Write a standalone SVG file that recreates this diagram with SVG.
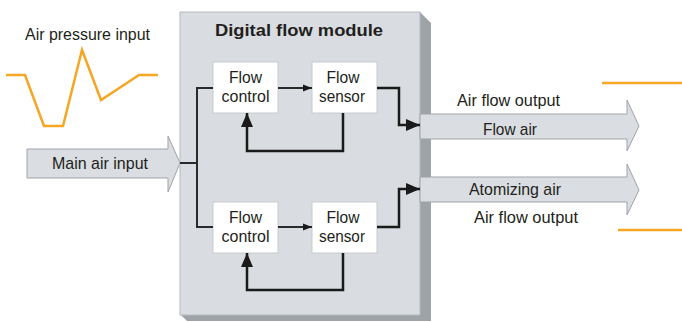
<svg xmlns="http://www.w3.org/2000/svg" width="682" height="322" viewBox="0 0 682 322">
<defs>
<style>
text{font-family:"Liberation Sans",Arial,sans-serif;fill:#231f20;}
.lbl{font-size:17px;}
.box{fill:#ffffff;stroke:#c8cbcf;stroke-width:1;}
.big{fill:#dadde1;stroke:#9fa3a8;stroke-width:1;}
.ln{fill:none;stroke:#1a1a1a;stroke-width:2.5;}
.thin{fill:none;stroke:#2a2a2a;stroke-width:2;}
.wave{fill:none;stroke:#f5a623;stroke-width:2.5;}
</style>
<marker id="ah" markerUnits="userSpaceOnUse" markerWidth="16" markerHeight="14" refX="14" refY="7" orient="auto">
<path d="M0,1 L14,7 L0,13 Z" fill="#1a1a1a"/>
</marker>
<marker id="as" markerUnits="userSpaceOnUse" markerWidth="10" markerHeight="8" refX="9" refY="4" orient="auto">
<path d="M0,0.5 L9,4 L0,7.5 Z" fill="#1a1a1a"/>
</marker>
</defs>

<g id="air-pressure-input">
<text class="lbl" x="25" y="40" textLength="125" lengthAdjust="spacingAndGlyphs">Air pressure input</text>
<polyline class="wave" points="6,75 25,75 44,126 63,126 82,50 101,100 139,75 158,75"/>
</g>

<g id="main-air-input">
<polygon class="big" points="27,149 168,149 168,136 180,163 168,192 168,178 27,178"/>
<text class="lbl" x="52" y="169" textLength="96" lengthAdjust="spacingAndGlyphs">Main air input</text>
</g>

<g id="digital-flow-module">
<polygon points="420,12 431,23 431,321 187,321 181,315 420,315" fill="#9ea3a8"/>
<rect x="180" y="12" width="240" height="303" fill="#d9dce0" stroke="#b5b9bd" stroke-width="1"/>
<text x="215" y="36" font-size="16.5" font-weight="bold" textLength="168" lengthAdjust="spacingAndGlyphs">Digital flow module</text>
</g>

<g id="flow-control-1">
<rect class="box" x="213" y="62" width="65" height="51"/>
<text class="lbl" x="245.5" y="83" text-anchor="middle" textLength="33" lengthAdjust="spacingAndGlyphs">Flow</text>
<text class="lbl" x="245.5" y="102" text-anchor="middle" textLength="48" lengthAdjust="spacingAndGlyphs">control</text>
</g>
<g id="flow-sensor-1">
<rect class="box" x="312" y="62" width="65" height="51"/>
<text class="lbl" x="343" y="83" text-anchor="middle" textLength="33" lengthAdjust="spacingAndGlyphs">Flow</text>
<text class="lbl" x="342" y="102" text-anchor="middle" textLength="46" lengthAdjust="spacingAndGlyphs">sensor</text>
</g>
<g id="flow-control-2">
<rect class="box" x="213" y="202" width="65" height="51"/>
<text class="lbl" x="245.5" y="223" text-anchor="middle" textLength="33" lengthAdjust="spacingAndGlyphs">Flow</text>
<text class="lbl" x="245.5" y="242" text-anchor="middle" textLength="48" lengthAdjust="spacingAndGlyphs">control</text>
</g>
<g id="flow-sensor-2">
<rect class="box" x="312" y="202" width="65" height="51"/>
<text class="lbl" x="343" y="223" text-anchor="middle" textLength="33" lengthAdjust="spacingAndGlyphs">Flow</text>
<text class="lbl" x="342" y="242" text-anchor="middle" textLength="46" lengthAdjust="spacingAndGlyphs">sensor</text>
</g>

<g id="flow-air-output">
<polygon class="big" points="420,114 627,114 627,100 639,126 627,151 627,139 420,139"/>
<text class="lbl" x="457" y="106" textLength="103" lengthAdjust="spacingAndGlyphs">Air flow output</text>
<text class="lbl" x="483" y="135" textLength="54" lengthAdjust="spacingAndGlyphs">Flow air</text>
<line class="wave" x1="602" y1="83" x2="682" y2="83"/>
</g>

<g id="atomizing-air-output">
<polygon class="big" points="420,177 627,177 627,164 639,190 627,215 627,202 420,202"/>
<text class="lbl" x="469" y="195" textLength="92" lengthAdjust="spacingAndGlyphs">Atomizing air</text>
<text class="lbl" x="474" y="223" textLength="104" lengthAdjust="spacingAndGlyphs">Air flow output</text>
<line class="wave" x1="618" y1="230" x2="682" y2="230"/>
</g>

<g id="connectors">
<polyline class="thin" points="180,163 197,163"/>
<polyline class="thin" points="213,88 197,88 197,227 213,227"/>
<line class="thin" x1="278" y1="88" x2="312" y2="88" marker-end="url(#as)"/>
<line class="thin" x1="278" y1="227" x2="312" y2="227" marker-end="url(#as)"/>
<polyline class="ln" points="377,88 399,88 399,125 420,125" marker-end="url(#ah)"/>
<polyline class="ln" points="377,227 399,227 399,189 420,189" marker-end="url(#ah)"/>
<polyline class="ln" points="343,113 343,151 247,151 247,113" marker-end="url(#ah)"/>
<polyline class="ln" points="343,253 343,290 247,290 247,253" marker-end="url(#ah)"/>
</g>
</svg>
